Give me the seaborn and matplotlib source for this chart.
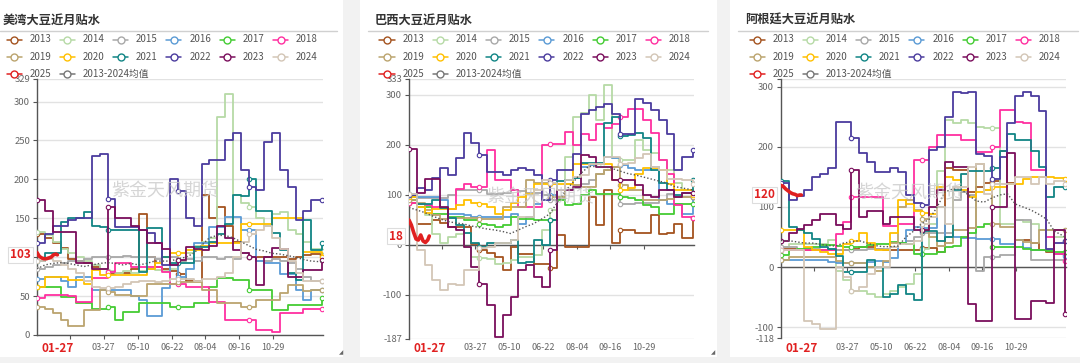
import numpy as np
import pandas as pd
import matplotlib
matplotlib.use("Agg")
import matplotlib.pyplot as plt
from matplotlib.lines import Line2D
from matplotlib.patches import Rectangle
from matplotlib.transforms import blended_transform_factory, offset_copy
import seaborn as sns

sns.set_theme(style="white")
plt.rcParams["font.family"] = ["Noto Sans CJK SC", "DejaVu Sans"]
plt.rcParams["axes.unicode_minus"] = False

# ---------------- data ----------------
DAYS = [0, 10, 20, 30, 40, 50, 60, 70, 80, 90, 100, 110, 120, 130, 140, 150, 160, 170,
        180, 190, 200, 210, 220, 230, 240, 250, 260, 270, 280, 290, 300, 310, 320, 330,
        340, 350, 364]
YEARS = ["2013", "2014", "2015", "2016", "2017", "2018", "2019", "2020", "2021", "2022", "2023", "2024"]
COLORS = ["#A4531F", "#B6DAA6", "#A8A8A8", "#5B9BD5", "#44CC33", "#FF2FA0",
          "#BBA46E", "#FFC000", "#118585", "#4B3C9E", "#7A0E5C", "#D3C6B6"]
COLOR_2025 = "#E02020"
COLOR_MEAN = "#555555"
LEGEND_LABELS = YEARS + ["2025", "2013-2024均值"]

TICK_DATES = ["02-12", "03-27", "05-10", "06-22", "08-04", "09-16", "10-29"]
CURRENT_DATE = "01-27"
DAYS_2025 = [0, 3, 6, 9, 12, 15, 18, 21, 24, 26]

# US Gulf
US_2013 = [130,125,118,112,98,95,92,88,85,78,80,80,85,155,100,88,85,82,78,70,70,180,150,165,140,120,105,100,100,100,100,100,98,100,103,104,103]
US_2014 = [132,128,120,110,105,100,95,90,85,82,80,82,80,82,85,83,82,85,95,105,115,120,125,280,310,180,170,165,150,140,155,158,135,130,120,110,108]
US_2015 = [85,88,90,92,95,95,98,100,100,100,100,102,100,100,100,98,100,100,95,98,95,100,100,98,100,98,105,100,95,95,98,95,92,85,75,70,70]
US_2016 = [72,75,75,70,62,75,75,58,58,58,58,58,50,45,25,25,60,90,75,85,118,118,139,139,152,152,135,135,95,92,92,79,79,58,45,58,58]
US_2017 = [62,62,62,49,49,41,41,34,34,36,19,30,30,41,41,41,41,36,36,36,41,41,62,73,73,71,71,58,58,58,32,32,39,39,39,39,47]
US_2018 = [47,52,52,52,50,43,43,73,73,81,92,92,88,88,88,88,81,66,66,62,62,62,43,43,19,19,19,19,6,6,4,28,28,28,34,34,34]
US_2019 = [36,33,28,19,11,11,32,32,58,55,52,52,50,50,66,66,66,66,68,68,68,58,58,41,41,41,36,36,45,45,45,54,64,64,56,58,58]
US_2020 = [62,75,75,75,71,71,66,84,77,77,77,77,77,77,85,92,100,105,105,109,109,115,118,118,118,118,143,143,143,143,150,150,150,150,107,107,100]
US_2021 = [95,105,105,145,150,150,158,140,139,135,135,135,135,81,137,137,100,92,92,92,113,113,120,130,143,180,178,201,160,160,131,109,80,71,148,109,118]
US_2022 = [118,130,140,140,148,150,150,230,232,175,139,139,139,135,131,118,90,200,185,150,140,220,225,225,250,259,212,190,186,248,259,212,190,148,160,174,174]
US_2023 = [173,160,133,133,133,92,92,85,85,165,150,150,140,135,118,118,110,90,96,113,110,109,115,140,125,109,105,100,64,100,112,110,75,75,84,84,96]
US_2024 = [95,98,95,90,85,80,70,62,60,60,62,65,68,70,70,68,70,72,72,72,70,72,72,75,80,100,120,130,135,140,125,110,95,80,70,70,70]
US_MEAN = [85,90,92,93,92,90,88,90,92,93,92,90,92,90,92,95,95,95,98,100,105,115,125,128,128,125,120,115,110,108,105,104,102,100,97,95,94]
US_2025 = [106,101,99,98,98,99,100,103,104,103]

# Brazil
BR_2013 = [85,43,43,50,45,37,37,37,3,-10,-15,-23,-50,-3,-17,-17,-37,-37,-45,20,-3,-3,-3,97,40,110,5,30,30,25,25,60,23,25,43,15,55]
BR_2014 = [90,83,60,23,5,17,22,-3,-23,-25,-28,-37,-35,-30,-23,-23,-20,30,70,110,177,257,265,300,250,320,175,170,170,210,190,185,170,150,125,110,97]
BR_2015 = [97,95,95,95,95,100,110,110,110,110,103,103,105,110,108,105,105,100,90,92,110,115,123,130,143,150,157,83,83,85,85,85,90,103,97,97,97]
BR_2016 = [103,97,97,97,90,63,63,60,57,57,57,57,57,63,43,57,83,90,100,110,130,135,157,160,163,177,175,160,155,150,150,157,90,83,83,63,97]
BR_2017 = [90,77,77,63,63,57,57,50,50,43,40,37,40,57,53,53,50,50,50,90,80,83,100,110,103,103,103,97,95,90,80,77,63,63,83,83,83]
BR_2018 = [85,82,80,77,75,73,112,123,117,117,190,130,130,110,77,77,77,200,203,203,227,200,223,210,243,235,243,257,273,273,250,225,170,143,80,57,55]
BR_2019 = [90,85,70,60,52,55,55,55,55,53,53,53,77,77,77,130,125,125,97,97,123,120,117,117,143,150,157,120,110,110,90,90,90,92,97,97,97]
BR_2020 = [97,77,65,73,73,72,80,90,85,83,77,63,70,85,97,103,123,123,123,123,123,163,163,163,163,163,130,110,115,143,155,155,150,123,110,110,100]
BR_2021 = [100,83,83,90,75,55,40,25,5,-3,5,5,5,10,-35,-33,10,0,50,128,130,135,165,165,165,245,257,218,220,225,215,150,125,110,100,105,130]
BR_2022 = [100,115,110,135,155,140,175,225,205,180,147,147,140,150,155,150,140,90,130,150,150,183,262,270,277,283,263,223,223,293,285,270,250,223,150,177,190]
BR_2023 = [193,105,133,133,77,37,30,-3,-43,-77,-120,-183,-140,-103,-50,-40,-63,-83,-10,110,110,117,180,177,157,157,130,130,130,120,100,97,110,110,97,105,105]
BR_2024 = [103,-10,-40,-70,-90,-77,-80,-50,-50,-5,-3,5,5,10,57,57,110,130,125,110,130,137,140,163,163,177,177,163,165,175,183,157,150,133,133,130,123]
BR_MEAN = [75,70,65,58,52,47,44,42,38,35,32,30,27,23,30,37,43,52,62,85,108,125,143,157,157,157,153,148,143,140,136,132,128,124,117,114,110]
BR_2025 = [50,40,25,12,10,20,8,5,10,18]

# Argentina
AR_2013 = [30,30,28,28,28,28,28,28,28,30,33,33,30,28,28,28,28,28,31,31,25,165,161,161,125,133,140,144,194,140,45,45,40,28,25,22,22]
AR_2014 = [33,39,39,39,39,39,45,-6,-22,-39,-39,-45,-50,-45,-40,-33,-28,-11,30,72,160,244,239,244,239,233,231,231,72,72,78,75,72,61,61,50,44]
AR_2015 = [33,33,30,30,30,28,30,28,28,28,28,30,30,30,33,40,44,50,56,56,56,56,111,125,120,-6,17,17,20,20,78,78,11,11,11,11,11]
AR_2016 = [11,11,11,11,11,11,8,6,6,6,6,8,10,8,15,40,61,67,65,65,100,50,50,48,48,47,47,47,39,39,45,31,28,28,28,22,19]
AR_2017 = [20,28,30,32,33,36,36,35,33,33,33,37,39,39,42,40,38,22,22,22,25,33,35,50,56,67,72,33,33,33,33,30,28,28,26,25,25]
AR_2018 = [28,28,28,28,28,28,28,55,75,117,117,117,117,69,69,72,72,178,178,200,219,219,219,211,211,192,192,200,261,261,242,239,161,161,50,22,10]
AR_2019 = [11,17,17,17,17,17,17,10,6,6,6,0,-6,10,40,100,111,95,80,50,35,40,61,61,65,172,128,72,67,67,45,42,40,61,61,61,61]
AR_2020 = [61,61,61,33,28,25,22,22,39,44,56,40,28,28,56,111,105,94,90,88,133,150,145,128,117,125,128,133,133,139,139,147,150,150,150,148,147]
AR_2021 = [144,67,61,56,47,33,30,18,-8,-8,-8,11,0,-50,-44,-30,-45,-55,60,60,44,50,128,155,160,160,160,165,194,222,211,211,194,167,117,133,133]
AR_2022 = [140,112,118,128,150,155,165,242,242,215,190,175,158,158,165,158,120,106,104,195,200,250,292,290,292,189,185,147,183,240,285,292,285,260,30,40,44]
AR_2023 = [44,56,64,70,78,89,89,70,64,161,83,94,94,72,83,83,83,61,61,100,128,175,167,167,-61,-89,-89,100,100,190,-86,-86,-56,-56,-60,61,-78]
AR_2024 = [28,28,28,-89,-94,-103,-103,0,-17,-39,-33,-11,0,0,33,39,39,44,72,83,100,72,133,133,167,172,122,139,139,139,150,150,139,150,139,144,139]
AR_MEAN = [44,44,42,40,40,38,36,35,40,42,44,40,36,34,34,35,50,60,72,80,100,125,130,130,120,110,108,115,120,122,105,100,95,88,80,60,50]
AR_2025 = [136,134,130,127,124,122,121,119,120,120]

PANELS = [
    dict(title="美湾大豆近月贴水",
         series=[US_2013, US_2014, US_2015, US_2016, US_2017, US_2018, US_2019, US_2020, US_2021, US_2022, US_2023, US_2024],
         mean=US_MEAN, cur=US_2025,
         card=(0, 343), sep=(0, 337), title_x=3, legend_x=14,
         box=(37, 323, 79, 335), ylim=(0, 329),
         yticks=[0, 50, 100, 150, 200, 250, 300, 329], hide_top=False,
         wm=(0.45, 0.56)),
    dict(title="巴西大豆近月贴水",
         series=[BR_2013, BR_2014, BR_2015, BR_2016, BR_2017, BR_2018, BR_2019, BR_2020, BR_2021, BR_2022, BR_2023, BR_2024],
         mean=BR_MEAN, cur=BR_2025,
         card=(360, 717), sep=(368, 708), title_x=375, legend_x=387,
         box=(409, 694, 78.5, 338.5), ylim=(-187, 333),
         yticks=[-187, -100, 0, 100, 200, 300, 333], hide_top=False,
         wm=(0.46, 0.545)),
    dict(title="阿根廷大豆近月贴水",
         series=[AR_2013, AR_2014, AR_2015, AR_2016, AR_2017, AR_2018, AR_2019, AR_2020, AR_2021, AR_2022, AR_2023, AR_2024],
         mean=AR_MEAN, cur=AR_2025,
         card=(730, 1080), sep=(738, 1078), title_x=745, legend_x=757,
         box=(781, 1066, 79, 338), ylim=(-118, 313),
         yticks=[-118, -100, 0, 100, 200, 300, 313], hide_top=True,
         wm=(0.45, 0.56)),
]

# ---------------- figure ----------------
W, H = 1080, 363
fig = plt.figure(figsize=(W / 100, H / 100), dpi=100)
fig.patch.set_facecolor("#f2f2f2")


def fx(px):
    return px / W


def fy(py):
    return 1 - py / H


tick_pos = [pd.Timestamp("2025-" + d).dayofyear - 1 for d in TICK_DATES]
cur_pos = pd.Timestamp("2025-" + CURRENT_DATE).dayofyear - 1

for P in PANELS:
    x0, x1 = P["card"]
    fig.add_artist(Rectangle((fx(x0), fy(357)), fx(x1 - x0), 357 / H,
                             transform=fig.transFigure, facecolor="white",
                             edgecolor="none", zorder=0))
    # title + separator
    fig.text(fx(P["title_x"]), fy(20), P["title"], fontsize=8.8, fontweight="bold",
             color="#333333", ha="left", va="center")
    s0, s1 = P["sep"]
    fig.add_artist(Line2D([fx(s0), fx(s1)], [fy(31), fy(31)], transform=fig.transFigure,
                          color="#d0d0d0", lw=1))
    # legend (manual, fixed column pitch like the original)
    for i, lab in enumerate(LEGEND_LABELS):
        row, col = divmod(i, 6)
        cx = P["legend_x"] + col * 53.3
        cy = [39.5, 57, 74][row]
        if i < 12:
            c = COLORS[i]
        elif i == 12:
            c = COLOR_2025
        else:
            c = "#777777"
        fig.add_artist(Line2D([fx(cx - 7.5), fx(cx + 7.5)], [fy(cy), fy(cy)],
                              transform=fig.transFigure, color=c, lw=1.1, zorder=5))
        fig.add_artist(Line2D([fx(cx)], [fy(cy)], transform=fig.transFigure, marker="o",
                              ms=5, mfc="white", mec=c, mew=1.0, zorder=6))
        fig.text(fx(cx + 15.5), fy(cy), lab, fontsize=7, color="#555555",
                 ha="left", va="center", zorder=7)

    # axes
    l, r, t, b = P["box"]
    ax = fig.add_axes([fx(l), fy(b), fx(r - l), (b - t) / H])
    ax.set_facecolor("none")
    ax.set_zorder(2)

    for yr, vals, c in zip(YEARS, P["series"], COLORS):
        sns.lineplot(x=DAYS, y=vals, ax=ax, color=c, linewidth=1.3,
                     drawstyle="steps-post", marker="o", markersize=3.2,
                     markerfacecolor="white", markeredgecolor=c, markeredgewidth=0.8,
                     markevery=9, estimator=None, sort=False, legend=False, zorder=3)
    sns.lineplot(x=DAYS, y=P["mean"], ax=ax, color=COLOR_MEAN, linewidth=1.0,
                 linestyle=(0, (1, 1.5)), estimator=None, sort=False, legend=False, zorder=4)
    sns.lineplot(x=DAYS_2025, y=P["cur"], ax=ax, color=COLOR_2025, linewidth=2.6,
                 estimator=None, sort=False, legend=False, zorder=6)

    ax.set_xlim(0, 365)
    ax.set_ylim(*P["ylim"])
    ax.set_xlabel("")
    ax.set_ylabel("")
    ax.set_yticks(P["yticks"])
    # pixel scale of this axis, to hide the tick label that sits under the value tag
    px_per_unit = (b - t) / (P["ylim"][1] - P["ylim"][0])
    ylabels = []
    for v in P["yticks"]:
        if abs(v - P["cur"][-1]) * px_per_unit < 7:
            ylabels.append("")
        else:
            ylabels.append(str(v))
    if P["hide_top"]:
        ylabels[-1] = ""
    ax.set_yticklabels(ylabels)
    ax.tick_params(axis="y", labelsize=6.8, labelcolor="#666666", length=3,
                   width=0.8, color="#555555", pad=2, left=True)
    ax.grid(axis="y", color="#e2e2e2", lw=1)
    ax.grid(axis="x", visible=False)
    ax.set_axisbelow(True)
    for s in ("top", "right"):
        ax.spines[s].set_visible(False)
    ax.spines["left"].set_color("#555555")
    ax.spines["left"].set_linewidth(1)
    ax.spines["bottom"].set_position(("data", 0))
    ax.spines["bottom"].set_color("#555555")
    ax.spines["bottom"].set_linewidth(1)
    ax.set_xticks(tick_pos)
    ax.tick_params(axis="x", direction="out", length=3, width=0.8, color="#555555",
                   labelbottom=False, bottom=True)

    # x labels on one common baseline near the card bottom
    tr = blended_transform_factory(ax.transData, fig.transFigure)
    for pos, lab in zip(tick_pos, TICK_DATES):
        if abs(pos - cur_pos) < 25:
            continue
        ax.text(pos, fy(348), lab, transform=tr, fontsize=6.5, color="#666666",
                ha="center", va="center", clip_on=False)
    ax.text(cur_pos, fy(348.5), CURRENT_DATE, transform=tr, fontsize=8.5, color=COLOR_2025,
            fontweight="bold", ha="center", va="center", clip_on=False)

    # current value tag on the y axis
    trv = offset_copy(blended_transform_factory(ax.transAxes, ax.transData), fig=fig,
                      x=-6, units="dots")
    ax.text(0, P["cur"][-1], str(P["cur"][-1]), transform=trv, fontsize=8.5,
            color=COLOR_2025, fontweight="bold", ha="right", va="center", zorder=10,
            clip_on=False,
            bbox=dict(boxstyle="square,pad=0.15", fc="white", ec="#dddddd", lw=0.8))

    # watermark
    ax.text(P["wm"][0], P["wm"][1], "紫金天风期货", transform=ax.transAxes, fontsize=13,
            color="#c8c8c8", alpha=0.75, ha="center", va="center", zorder=20)

# resize grips
for gx in (341, 713):
    fig.text(fx(gx), fy(353), "◢", fontsize=4, color="#666666", ha="center",
             va="center", family=["DejaVu Sans"])

fig.savefig("out.png", dpi=100, facecolor=fig.get_facecolor())
